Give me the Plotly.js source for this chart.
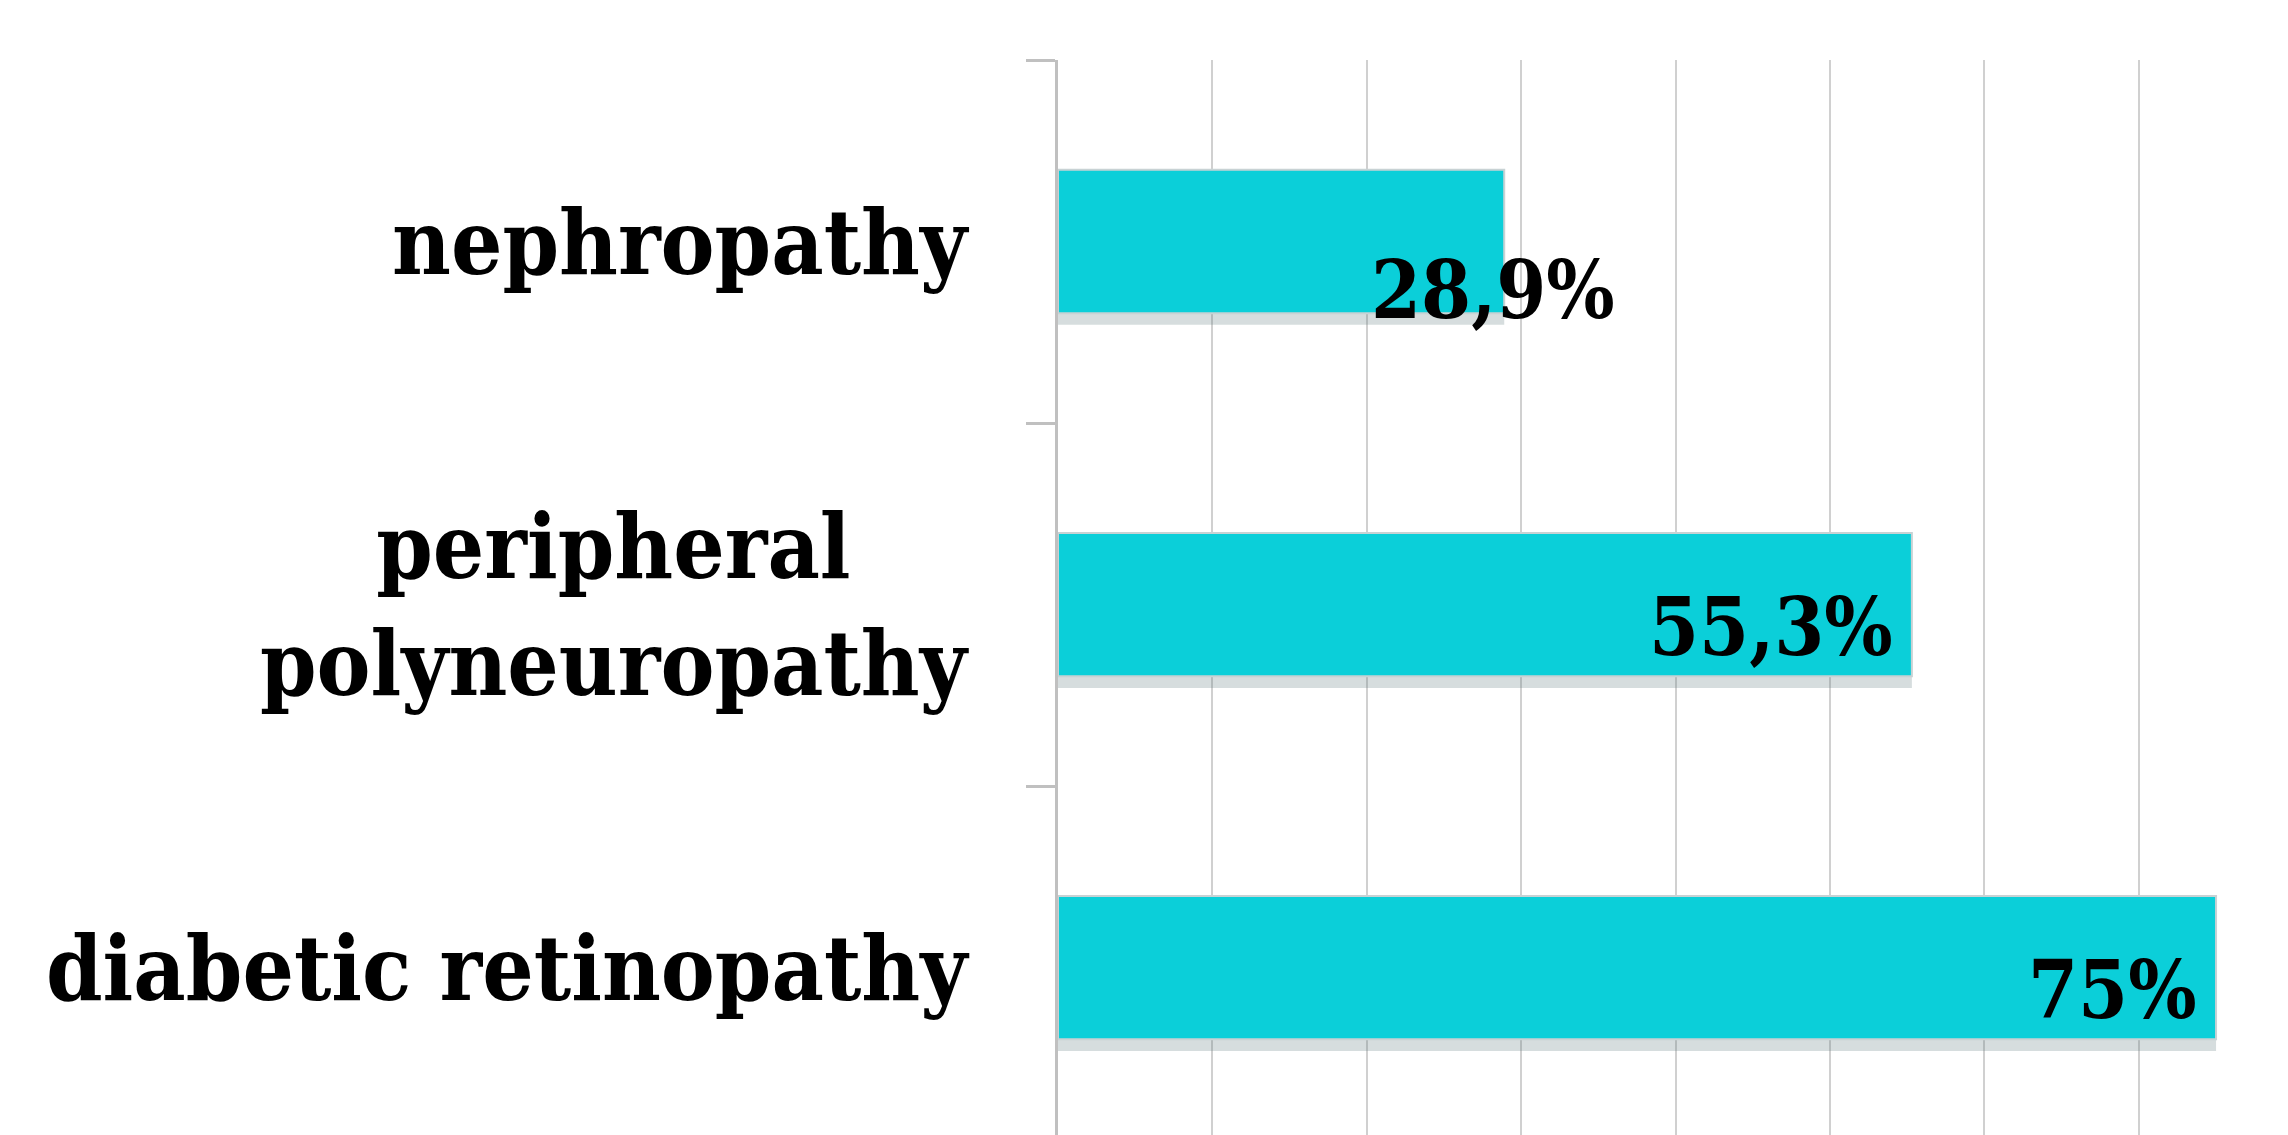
<!DOCTYPE html>
<html>
<head>
<meta charset="utf-8">
<script src="https://cdn.plot.ly/plotly-3.0.1.min.js"></script>
<style>
  html, body { margin: 0; padding: 0; background: #ffffff; }
  #chart { width: 2288px; height: 1135px; }
</style>
</head>
<body>
<div id="chart"></div>
<script>
// ---- data (bottom to top, as on the category axis) ----
const categories = ["diabetic retinopathy", "peripheral polyneuropathy", "nephropathy"];
const categoryLabels = ["diabetic retinopathy", "peripheral<br>polyneuropathy", "nephropathy"];
const values = [75, 55.3, 28.9];
const valueLabels = ["75%", "55,3%", "28,9%"];
const xTicks = [0, 10, 20, 30, 40, 50, 60, 70, 80];

const FONT = "DejaVu Serif Condensed, DejaVu Serif, Liberation Serif, serif";
const BAR = "#0bcfd9";
const BAR_WIDTH = 0.395;

// label placement tweaks (style, not data)
const labelStyle = {
  "75%":   { xanchor: "right", xshift: -17, yshift: -22 },
  "55,3%": { xanchor: "right", xshift: -17, yshift: -22 },
  "28,9%": { xanchor: "right", xshift: 113, yshift: -48 }
};

// soft drop shadow under each bar (same data, shifted down a little)
const shadow = {
  type: "bar",
  orientation: "h",
  x: values,
  y: categories,
  width: BAR_WIDTH,
  offset: -BAR_WIDTH / 2 - 0.032,
  marker: { color: "rgba(95,125,128,0.26)", line: { width: 0 } },
  hoverinfo: "skip",
  showlegend: false
};

const trace = {
  type: "bar",
  orientation: "h",
  x: values,
  y: categories,
  width: BAR_WIDTH,
  marker: { color: BAR, line: { color: "#c8d2d4", width: 2 } },
  hoverinfo: "skip",
  showlegend: false
};

const annotations = [];
categories.forEach((c, i) => {
  annotations.push({
    xref: "paper", x: 0, xanchor: "right", xshift: -86,
    yref: "y", y: c, yanchor: "middle",
    text: categoryLabels[i], align: "center", showarrow: false,
    font: { family: FONT, size: 90, color: "#000000", weight: 700 }
  });
  const st = labelStyle[valueLabels[i]];
  annotations.push({
    xref: "x", x: values[i], xanchor: st.xanchor, xshift: st.xshift,
    yref: "y", y: c, yanchor: "middle", yshift: st.yshift,
    text: valueLabels[i], showarrow: false,
    font: { family: FONT, size: 80, color: "#000000", weight: 700 }
  });
});

const layout = {
  width: 2288, height: 1135,
  margin: { l: 1058, r: 0, t: 60, b: 0, pad: 0 },
  paper_bgcolor: "#ffffff", plot_bgcolor: "#ffffff",
  barmode: "overlay",
  xaxis: {
    range: [0, 79.66], tickvals: xTicks, showticklabels: false,
    showgrid: true, gridcolor: "#d0d0d0", gridwidth: 2,
    zeroline: false, showline: false, ticks: ""
  },
  yaxis: {
    type: "category", categoryorder: "array", categoryarray: categories,
    range: [-0.461, 2.5],
    showticklabels: false, showgrid: false, zeroline: false,
    showline: true, linecolor: "#c0c0c0", linewidth: 3,
    ticks: "outside", tickson: "boundaries", ticklen: 29, tickwidth: 3, tickcolor: "#c0c0c0"
  },
  annotations: annotations
};

Plotly.newPlot("chart", [shadow, trace], layout, { displayModeBar: false, staticPlot: true });
</script>
</body>
</html>
